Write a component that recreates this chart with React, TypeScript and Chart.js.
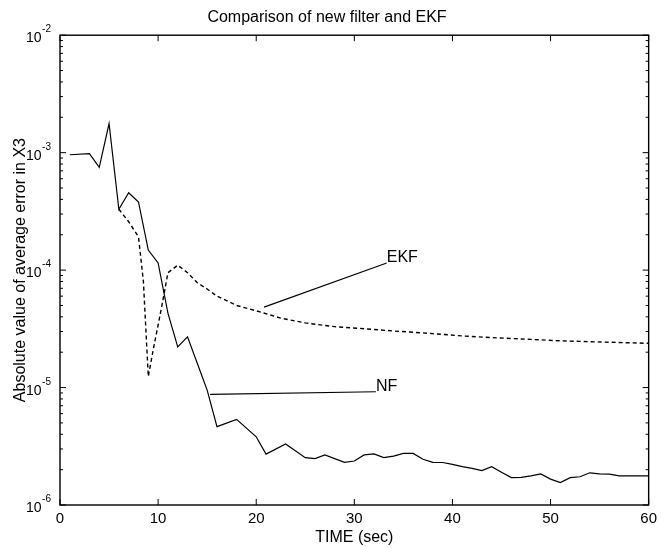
import React, { useEffect, useRef } from 'react';
import { Chart, registerables } from 'chart.js';

Chart.register(...registerables);

// ---- data ----
const nfTime = [1, 3, 4, 5, 6, 7, 8, 9, 10, 11, 12, 13, 14, 15, 16, 18, 20, 21, 23, 25, 26, 27, 29, 30, 31, 32, 33, 34, 35, 36, 37, 38, 39, 40, 41, 42, 43, 44, 45, 46, 47, 48, 49, 50, 51, 52, 53, 54, 55, 56, 57, 58, 60];
const nfError = [9.6e-4, 9.8e-4, 7.5e-4, 1.77e-3, 3.3e-4, 4.55e-4, 3.8e-4, 1.48e-4, 1.15e-4, 4.3e-5, 2.22e-5, 2.7e-5, 1.6e-5, 9.5e-6, 4.65e-6, 5.36e-6, 3.81e-6, 2.71e-6, 3.31e-6, 2.53e-6, 2.48e-6, 2.67e-6, 2.31e-6, 2.37e-6, 2.67e-6, 2.72e-6, 2.53e-6, 2.61e-6, 2.75e-6, 2.75e-6, 2.45e-6, 2.31e-6, 2.3e-6, 2.22e-6, 2.12e-6, 2.05e-6, 1.96e-6, 2.12e-6, 1.9e-6, 1.71e-6, 1.72e-6, 1.77e-6, 1.84e-6, 1.66e-6, 1.55e-6, 1.71e-6, 1.74e-6, 1.88e-6, 1.84e-6, 1.83e-6, 1.77e-6, 1.77e-6, 1.77e-6];

const ekfTime = [6, 7, 8, 8.5, 9, 9.5, 10, 10.5, 11, 12, 13, 14, 15, 16, 18, 20, 22.5, 25, 28, 31, 34, 37.5, 41, 44.5, 48, 51, 54.5, 60];
const ekfError = [3.3e-4, 2.58e-4, 1.92e-4, 8.0e-5, 1.24e-5, 2.1e-5, 3.4e-5, 5.6e-5, 9.5e-5, 1.1e-4, 9.5e-5, 7.8e-5, 6.9e-5, 6.0e-5, 5.0e-5, 4.5e-5, 3.9e-5, 3.55e-5, 3.3e-5, 3.17e-5, 3.03e-5, 2.9e-5, 2.75e-5, 2.65e-5, 2.57e-5, 2.5e-5, 2.45e-5, 2.38e-5];

const xTicks = [0, 10, 20, 30, 40, 50, 60];
const yDecades = [1e-6, 1e-5, 1e-4, 1e-3, 1e-2];
const yTickBase = '10';
const yTickExponents = ['-6', '-5', '-4', '-3', '-2'];

const titleText = 'Comparison of new filter and EKF';
const xTitle = 'TIME (sec)';
const yTitle = 'Absolute value of average error in X3';

// text annotations with leader lines (data coordinates)
const annotationLabels = ['EKF', 'NF'];
const annotationFrom = [[20.8, 4.84e-5], [15.3, 8.75e-6]];
const annotationTo = [[33.3, 1.15e-4], [32.2, 9.2e-6]];

const FONT = '"Liberation Sans", Arial, Helvetica, sans-serif';

const framePlugin = {
  id: 'matlabFrame',
  afterDatasetsDraw(chart: any) {
    const { ctx, chartArea } = chart;
    const { left, right, top, bottom } = chartArea;
    const xs = chart.scales.x;
    const ys = chart.scales.y;
    ctx.save();
    ctx.strokeStyle = '#000';
    ctx.lineWidth = 1.4;
    ctx.strokeRect(left, top, right - left, bottom - top);
    ctx.lineWidth = 1;
    ctx.beginPath();
    for (const v of xTicks) {
      const px = xs.getPixelForValue(v);
      ctx.moveTo(px, bottom);
      ctx.lineTo(px, bottom - 6);
      ctx.moveTo(px, top);
      ctx.lineTo(px, top + 6);
    }
    for (let d = 0; d < yDecades.length; d++) {
      const base = yDecades[d];
      for (let m = 1; m <= 9; m++) {
        const v = base * m;
        if (v > yDecades[yDecades.length - 1] * 1.0001) continue;
        const py = ys.getPixelForValue(v);
        const len = m === 1 ? 6 : 3;
        ctx.moveTo(left, py);
        ctx.lineTo(left + len, py);
        ctx.moveTo(right, py);
        ctx.lineTo(right - len, py);
      }
    }
    ctx.stroke();

    // y tick labels: 10 with superscript exponent
    ctx.fillStyle = '#000';
    ctx.textBaseline = 'alphabetic';
    for (let d = 0; d < yDecades.length; d++) {
      const py = ys.getPixelForValue(yDecades[d]);
      ctx.font = `10px ${FONT}`;
      ctx.textAlign = 'right';
      const expRight = left - 9;
      const expW = ctx.measureText(yTickExponents[d]).width;
      ctx.fillText(yTickExponents[d], expRight, py - 3);
      ctx.font = `14px ${FONT}`;
      ctx.fillText(yTickBase, expRight - expW - 0.5, py + 7);
    }

    // annotations
    ctx.lineWidth = 1.1;
    ctx.font = `16px ${FONT}`;
    ctx.textAlign = 'left';
    ctx.textBaseline = 'bottom';
    for (let i = 0; i < annotationLabels.length; i++) {
      const x0 = xs.getPixelForValue(annotationFrom[i][0]);
      const y0 = ys.getPixelForValue(annotationFrom[i][1]);
      const x1 = xs.getPixelForValue(annotationTo[i][0]);
      const y1 = ys.getPixelForValue(annotationTo[i][1]);
      ctx.beginPath();
      ctx.moveTo(x0, y0);
      ctx.lineTo(x1, y1);
      ctx.stroke();
      ctx.fillText(annotationLabels[i], x1, y1 + 3);
    }
    ctx.restore();
  },
};

export default function App() {
  const ref = useRef<HTMLCanvasElement>(null);
  useEffect(() => {
    if (!ref.current) return;
    const chart = new Chart(ref.current, {
      type: 'line',
      data: {
        datasets: [
          {
            label: 'NF',
            data: nfTime.map((t, i) => ({ x: t, y: nfError[i] })),
            borderColor: '#000',
            borderWidth: 1.2,
            pointRadius: 0,
            tension: 0,
            fill: false,
          },
          {
            label: 'EKF',
            data: ekfTime.map((t, i) => ({ x: t, y: ekfError[i] })),
            borderColor: '#000',
            borderWidth: 1.4,
            borderDash: [4, 3],
            pointRadius: 0,
            tension: 0,
            fill: false,
          },
        ],
      },
      options: {
        responsive: false,
        animation: false,
        layout: { padding: { left: 0, right: 8, top: 0, bottom: 0 } },
        plugins: {
          legend: { display: false },
          tooltip: { enabled: false },
          title: {
            display: true,
            text: titleText,
            color: '#000',
            font: { family: FONT, size: 16, weight: 'normal' },
            padding: { top: 8, bottom: 8 },
          },
        },
        scales: {
          x: {
            type: 'linear',
            min: 0,
            max: 60,
            afterBuildTicks: (s: any) => {
              s.ticks = xTicks.map((v) => ({ value: v }));
            },
            afterFit: (s: any) => {
              s.height = 43;
            },
            grid: { display: false, drawTicks: false },
            border: { display: false },
            ticks: {
              color: '#000',
              padding: 5,
              maxRotation: 0,
              font: { family: FONT, size: 15 },
              callback: (v: any) => String(v),
            },
            title: {
              display: true,
              text: xTitle,
              color: '#000',
              font: { family: FONT, size: 16 },
              padding: { top: 0, bottom: 1 },
            },
          },
          y: {
            type: 'logarithmic',
            min: 1e-6,
            max: 1e-2,
            afterBuildTicks: (s: any) => {
              s.ticks = yDecades.map((v) => ({ value: v }));
            },
            afterFit: (s: any) => {
              s.width = 60;
            },
            grid: { display: false, drawTicks: false },
            border: { display: false },
            ticks: { display: false },
            title: {
              display: true,
              text: yTitle,
              color: '#000',
              font: { family: FONT, size: 16 },
              padding: { top: 11, bottom: 0 },
            },
          },
        },
      },
      plugins: [framePlugin],
    });
    return () => chart.destroy();
  }, []);
  return (
    <div style={{ position: 'absolute', left: 0, top: 0, width: 662, height: 548, background: '#fff' }}>
      <canvas ref={ref} width={662} height={548} style={{ display: 'block' }} />
    </div>
  );
}
